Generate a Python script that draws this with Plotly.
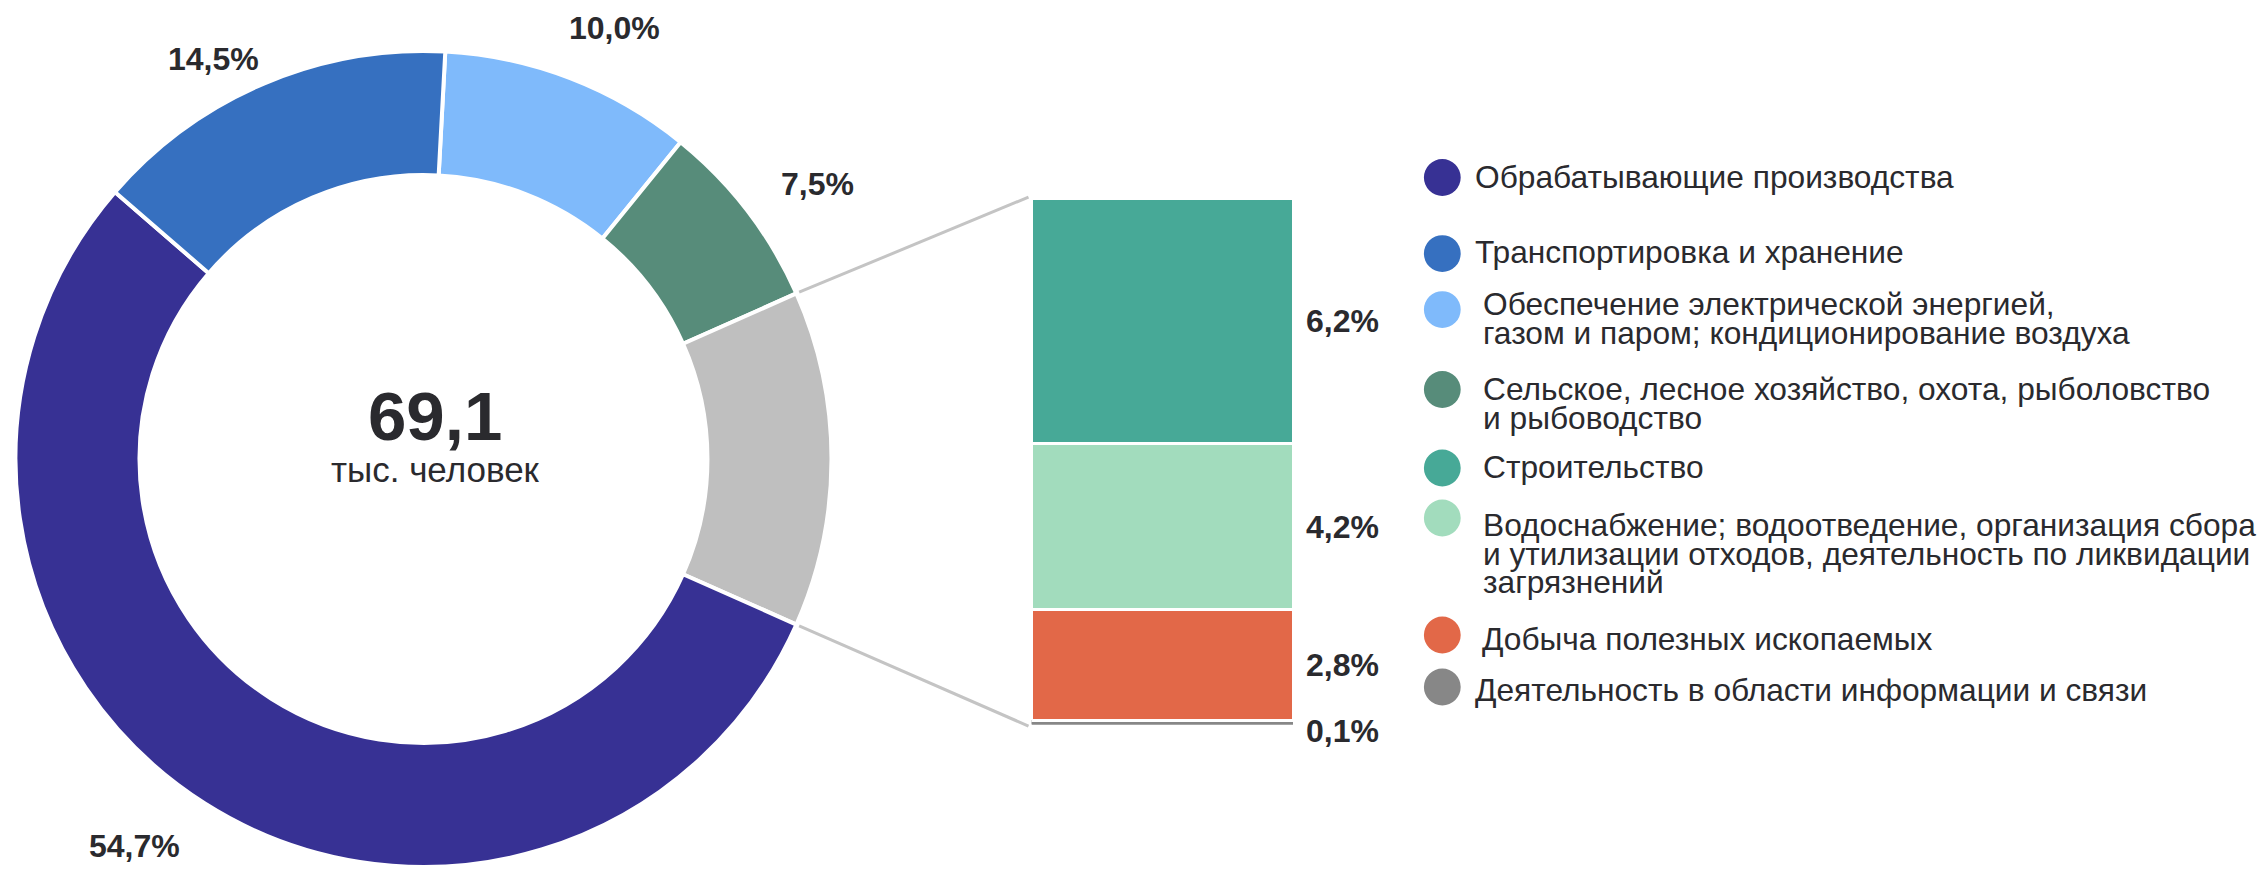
import math
import plotly.graph_objects as go

# ---------------- data ----------------
main_labels = [
    "Обрабатывающие производства",
    "Транспортировка и хранение",
    "Обеспечение электрической энергией, газом и паром; кондиционирование воздуха",
    "Сельское, лесное хозяйство, охота, рыболовство и рыбоводство",
]
main_values = [54.7, 14.5, 10.0, 7.5]

other_labels = [
    "Строительство",
    "Водоснабжение; водоотведение, организация сбора и утилизации отходов, деятельность по ликвидации загрязнений",
    "Добыча полезных ископаемых",
    "Деятельность в области информации и связи",
]
other_values = [6.2, 4.2, 2.8, 0.1]

total_value = 69.1
total_unit = "тыс. человек"

# legend text split into lines (display only)
legend_lines = [
    ["Обрабатывающие производства"],
    ["Транспортировка и хранение"],
    ["Обеспечение электрической энергией,", "газом и паром; кондиционирование воздуха"],
    ["Сельское, лесное хозяйство, охота, рыболовство", "и рыбоводство"],
    ["Строительство"],
    ["Водоснабжение; водоотведение, организация сбора",
     "и утилизации отходов, деятельность по ликвидации", "загрязнений"],
    ["Добыча полезных ископаемых"],
    ["Деятельность в области информации и связи"],
]

# ---------------- styles ----------------
main_colors = ["#373194", "#3670C0", "#7FBAFB", "#578C7A"]
other_colors = ["#47A997", "#A2DCBD", "#E26848", "#878787"]
other_slice_color = "#BFBFBF"
connector_color = "#C4C4C4"
text_color = "#2A2A2E"
FONT = "Liberation Sans, Arial, sans-serif"

W, H = 2264, 869


def px(x):
    return x / W


def py(y):
    return 1 - y / H


def fmt(v, digits=1):
    return f"{v:.{digits}f}".replace(".", ",")


# pie geometry (pixels)
CX, CY, R = 423.5, 459.0, 408.0
HOLE = 0.696

other_total = sum(other_values)

# clockwise order starting near 12 o'clock
pie_labels = [main_labels[2], main_labels[3], "Прочие", main_labels[0], main_labels[1]]
pie_values = [main_values[2], main_values[3], other_total, main_values[0], main_values[1]]
pie_colors = [main_colors[2], main_colors[3], other_slice_color, main_colors[0], main_colors[1]]
# small pixel nudges of the outside labels (dx, dy), pie order
pie_label_nudge = [(-18, -11), (-2, -1), (0, 0), (0, 7), (14, 14)]
pie_total = sum(pie_values)
deg_per = 360.0 / pie_total
# rotate so that the "other" slice is centred at 3 o'clock
rotation = 90 - (pie_values[0] + pie_values[1] + pie_values[2] / 2) * deg_per

fig = go.Figure()

fig.add_trace(go.Pie(
    labels=pie_labels,
    values=pie_values,
    sort=False,
    direction="clockwise",
    rotation=rotation,
    hole=HOLE,
    marker=dict(colors=pie_colors, line=dict(color="white", width=4)),
    textinfo="none",
    hoverinfo="label+value",
    domain=dict(x=[px(CX - R), px(CX + R)], y=[py(CY + R), py(CY - R)]),
    showlegend=False,
))

# stacked bar with the breakdown of "other"
BAR_X0, BAR_X1 = 1031.5, 1293.0
BAR_TOP, BAR_BOT = 198.6, 724.6
stack_order = [3, 2, 1, 0]  # bottom to top
bar_label_yshift = [0, 0, 0, -8]
for i in stack_order:
    lc = "white" if i != 3 else other_colors[3]
    lw = 3 if i != 3 else 1.5
    fig.add_trace(go.Bar(
        x=[0], y=[other_values[i]], width=1,
        marker=dict(color=other_colors[i], line=dict(color=lc, width=lw)),
        name=other_labels[i], showlegend=False,
        hoverinfo="name+y",
    ))

fig.update_layout(
    barmode="stack",
    xaxis=dict(domain=[px(BAR_X0), px(BAR_X1)], range=[-0.5, 0.5], visible=False, fixedrange=True),
    yaxis=dict(domain=[py(BAR_BOT), py(BAR_TOP)], range=[0, other_total], visible=False, fixedrange=True),
)

annotations = []
shapes = []

# pie percentage labels
cum = 0.0
LABEL_R = 450
for lab, val, (nx, ny) in zip(pie_labels, pie_values, pie_label_nudge):
    mid = rotation + (cum + val / 2) * deg_per
    cum += val
    if lab == "Прочие":
        continue
    a = math.radians(mid)
    lx = CX + LABEL_R * math.sin(a) + nx
    ly = CY - LABEL_R * math.cos(a) + ny
    annotations.append(dict(
        x=px(lx), y=py(ly), xref="paper", yref="paper",
        text=f"<b>{fmt(val)}%</b>", showarrow=False,
        xanchor="left" if math.sin(a) > 0 else "right", yanchor="middle",
        font=dict(family=FONT, size=32, color=text_color),
    ))

# bar labels
cum = 0.0
for i in stack_order:
    v = other_values[i]
    annotations.append(dict(
        x=1, y=cum + v / 2, xref="x domain", yref="y",
        text=f"<b>{fmt(v)}%</b>", showarrow=False,
        xanchor="left", yanchor="middle", xshift=11, yshift=bar_label_yshift[i],
        font=dict(family=FONT, size=32, color=text_color),
    ))
    cum += v

# centre text
annotations.append(dict(
    x=px(435), y=py(417), xref="paper", yref="paper",
    text=f"<b>{fmt(total_value)}</b>", showarrow=False,
    xanchor="center", yanchor="middle",
    font=dict(family=FONT, size=69, color=text_color),
))
annotations.append(dict(
    x=px(435), y=py(470), xref="paper", yref="paper",
    text=total_unit, showarrow=False,
    xanchor="center", yanchor="middle",
    font=dict(family=FONT, size=35, color=text_color),
))

# connector lines from the "other" slice to the bar
a0 = math.radians(rotation + (pie_values[0] + pie_values[1]) * deg_per)
a1 = math.radians(rotation + (pie_values[0] + pie_values[1] + pie_values[2]) * deg_per)
for a, by in ((a0, BAR_TOP - 1.5), (a1, BAR_BOT + 1.5)):
    sx = CX + (R + 3) * math.sin(a)
    sy = CY - (R + 3) * math.cos(a)
    shapes.append(dict(
        type="line", xref="paper", yref="paper",
        x0=px(sx), y0=py(sy), x1=px(BAR_X0 - 3), y1=py(by),
        line=dict(color=connector_color, width=3),
    ))

# custom legend
legend_colors = main_colors + other_colors
marker_y = [177.5, 253.6, 309.6, 389.5, 468.0, 518.0, 635.0, 687.0]
text_y = [176.7, 251.7, 304.0, 389.0, 467.0, 525.0, 639.0, 690.0]
text_x = [1473, 1473, 1481, 1481, 1481, 1481, 1480, 1473]
LINE_STEP = 28.5
MARK_X, MARK_R = 1442.3, 18.4
for k, lines in enumerate(legend_lines):
    shapes.append(dict(
        type="circle", xref="paper", yref="paper",
        xsizemode="pixel", ysizemode="pixel",
        xanchor=px(MARK_X), yanchor=py(marker_y[k]),
        x0=-MARK_R, x1=MARK_R, y0=-MARK_R, y1=MARK_R,
        fillcolor=legend_colors[k], line=dict(width=0),
    ))
    for j, line in enumerate(lines):
        annotations.append(dict(
            x=px(text_x[k]), y=py(text_y[k] + j * LINE_STEP), xref="paper", yref="paper",
            text=line, showarrow=False, xanchor="left", yanchor="middle",
            font=dict(family=FONT, size=31.7, color=text_color),
        ))

fig.update_layout(
    width=W, height=H, autosize=False,
    margin=dict(l=0, r=0, t=0, b=0),
    paper_bgcolor="white", plot_bgcolor="white",
    annotations=annotations, shapes=shapes,
    showlegend=False,
)

fig.write_html("out.html", config={"displayModeBar": False},
               post_script="document.body.style.margin='0';")
